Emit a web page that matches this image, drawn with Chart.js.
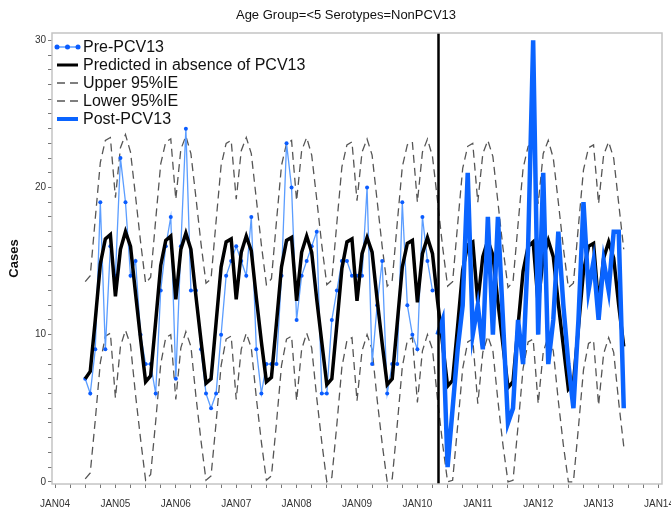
<!DOCTYPE html>
<html lang="en">
<head>
<meta charset="UTF-8">
<title>Age Group=&lt;5 Serotypes=NonPCV13</title>
<script src="https://cdn.jsdelivr.net/npm/chart.js@4.4.1/dist/chart.umd.min.js"></script>
<style>
  html, body { margin: 0; padding: 0; background: #fff; }
  #wrap { width: 671px; height: 512px; position: relative; }
</style>
</head>
<body>
<div id="wrap"><canvas id="casesChart"></canvas></div>
<script>
// months counted from JAN04 = 0
const firstMonth = 6;     // JUL04, first observed month
const introMonth = 76;    // MAY10, PCV13 reference line
const yearLabels = ['JAN04', 'JAN05', 'JAN06', 'JAN07', 'JAN08', 'JAN09',
                    'JAN10', 'JAN11', 'JAN12', 'JAN13', 'JAN14'];
const yTickLabels = [0, 10, 20, 30];

// observed cases, JUL04 .. APR10
const preObserved = [
  7, 6, 9, 19, 9, 16, 14, 22, 19, 14, 15, 10,
  8, 8, 6, 13, 16, 18, 7, 16, 24, 13, 13, 9,
  6, 5, 6, 10, 14, 15, 16, 15, 14, 18, 9, 6,
  8, 8, 8, 14, 23, 20, 11, 14, 15, 16, 17, 6,
  6, 11, 13, 15, 15, 14, 14, 14, 20, 8, 12, 15,
  6, 8, 8, 19, 12, 10, 9, 18, 15, 13
];
// observed cases, MAY10 .. JUN13
const postObserved = [
  10, 11, 1, 5, 9, 12, 21, 10, 12, 9, 18, 10, 18, 11, 4, 5, 11, 8, 16, 30,
  10, 21, 8, 11, 17, 12, 8, 5, 11, 19, 13, 15, 11, 15, 13, 17, 17, 5
];
// model, JUL04 .. JUN13 (one row per Jul-Jun season)
const predicted = [
  7.0, 7.5, 11.0, 14.8, 16.5, 16.8, 12.6, 15.8, 17.0, 16.0, 12.8, 9.7,
  6.8, 7.2, 10.9, 14.7, 16.4, 16.7, 12.4, 15.8, 16.9, 15.8, 12.6, 9.6,
  6.7, 7.0, 10.8, 14.6, 16.3, 16.5, 12.4, 15.6, 16.7, 15.7, 12.5, 9.5,
  6.8, 7.1, 10.8, 14.6, 16.4, 16.6, 12.3, 15.6, 16.7, 15.6, 12.4, 9.5,
  6.6, 7.0, 10.7, 14.5, 16.3, 16.5, 12.3, 15.5, 16.6, 15.6, 12.4, 9.4,
  6.6, 7.0, 10.8, 14.6, 16.2, 16.4, 12.2, 15.5, 16.6, 15.5, 12.3, 9.4,
  6.5, 6.9, 10.6, 14.4, 16.1, 16.3, 12.2, 15.3, 16.4, 15.4, 12.2, 9.3,
  6.4, 6.8, 10.6, 14.3, 16.0, 16.3, 12.1, 15.3, 16.4, 15.3, 12.1, 9.2,
  6.3, 6.7, 10.5, 14.3, 16.0, 16.2, 12.0, 15.2, 16.3, 15.2, 12.0, 9.2
];
const upper95 = [
  13.6, 14.0, 17.9, 21.7, 23.2, 23.4, 19.3, 22.7, 23.6, 22.4, 19.4, 16.3,
  13.5, 13.9, 17.8, 21.6, 23.1, 23.3, 19.2, 22.6, 23.5, 22.3, 19.3, 16.2,
  13.5, 13.8, 17.7, 21.5, 23.0, 23.2, 19.2, 22.5, 23.4, 22.3, 19.2, 16.1,
  13.4, 13.8, 17.7, 21.5, 23.0, 23.2, 19.1, 22.5, 23.4, 22.2, 19.2, 16.1,
  13.4, 13.7, 17.6, 21.4, 22.9, 23.1, 19.1, 22.4, 23.3, 22.2, 19.1, 16.0,
  13.3, 13.7, 17.6, 21.4, 22.9, 23.1, 19.0, 22.4, 23.3, 22.1, 19.1, 16.0,
  13.3, 13.6, 17.5, 21.3, 22.8, 23.0, 19.0, 22.3, 23.2, 22.1, 19.0, 15.9,
  13.2, 13.6, 17.5, 21.3, 22.8, 23.0, 18.9, 22.3, 23.2, 22.0, 19.0, 15.9,
  13.2, 13.5, 17.4, 21.2, 22.7, 22.9, 18.9, 22.2, 23.1, 22.0, 18.9, 15.8
];
const lower95 = [
  0.2, 0.6, 4.2, 8.1, 9.9, 10.1, 5.7, 9.2, 10.3, 9.3, 5.9, 2.9,
  0.1, 0.5, 4.1, 8.0, 9.8, 10.0, 5.6, 9.1, 10.2, 9.2, 5.8, 2.8,
  0.1, 0.4, 4.0, 7.9, 9.7, 9.9, 5.6, 9.0, 10.1, 9.1, 5.7, 2.7,
  0.1, 0.4, 4.0, 7.9, 9.7, 9.9, 5.5, 9.0, 10.1, 9.1, 5.7, 2.7,
  0.0, 0.3, 3.9, 7.8, 9.6, 9.8, 5.5, 8.9, 10.0, 9.0, 5.6, 2.6,
  0.0, 0.2, 3.9, 7.8, 9.6, 9.8, 5.4, 8.9, 10.0, 9.0, 5.6, 2.6,
  0.0, 0.1, 3.8, 7.7, 9.5, 9.7, 5.3, 8.8, 9.9, 8.9, 5.5, 2.5,
  0.0, 0.1, 3.8, 7.7, 9.5, 9.7, 5.3, 8.8, 9.9, 8.9, 5.5, 2.5,
  0.0, 0.0, 3.7, 7.6, 9.4, 9.6, 5.2, 8.7, 9.8, 8.8, 5.4, 2.4
];

const toPoints = (arr, start) => arr.map((v, i) => ({ x: start + i, y: v }));

const blueDot = '#0a5cff';
const blueThin = '#5b9dff';
const blueThick = '#0a64ff';
const dashGray = '#555555';
const fontFamily = '"Liberation Sans", Arial, sans-serif';

const legendItems = [
  { label: 'Pre-PCV13', kind: 'dots' },
  { label: 'Predicted in absence of PCV13', kind: 'black' },
  { label: 'Upper 95%IE', kind: 'dash' },
  { label: 'Lower 95%IE', kind: 'dash' },
  { label: 'Post-PCV13', kind: 'thick' }
];

// frame, PCV13 reference line, title and legend
const decorations = {
  id: 'decorations',
  afterDatasetsDraw(chart) {
    const { ctx, chartArea: a, scales } = chart;
    ctx.save();
    const xi = Math.round(scales.x.getPixelForValue(introMonth)) + 0.5;
    ctx.strokeStyle = '#000';
    ctx.lineWidth = 2.5;
    ctx.beginPath();
    ctx.moveTo(xi, a.top);
    ctx.lineTo(xi, a.bottom);
    ctx.stroke();
    ctx.restore();
  },
  afterDraw(chart) {
    const { ctx, chartArea: a } = chart;
    ctx.save();
    ctx.strokeStyle = '#c4c4c4';
    ctx.lineWidth = 1.5;
    ctx.strokeRect(a.left, a.top, a.right - a.left, a.bottom - a.top);

    ctx.fillStyle = '#111';
    ctx.font = '13px ' + fontFamily;
    ctx.textAlign = 'center';
    ctx.textBaseline = 'middle';
    ctx.fillText('Age Group=<5 Serotypes=NonPCV13', 346, 15);

    ctx.font = '16px ' + fontFamily;
    ctx.textAlign = 'left';
    const x0 = a.left + 5, x1 = a.left + 26;
    legendItems.forEach((it, k) => {
      const y = a.top + 14 + k * 18;
      ctx.save();
      if (it.kind === 'dots') {
        ctx.strokeStyle = blueThin; ctx.lineWidth = 1.5;
        ctx.beginPath(); ctx.moveTo(x0, y); ctx.lineTo(x1, y); ctx.stroke();
        ctx.fillStyle = blueDot;
        [x0, (x0 + x1) / 2, x1].forEach(px => {
          ctx.beginPath(); ctx.arc(px, y, 2.5, 0, Math.PI * 2); ctx.fill();
        });
      } else if (it.kind === 'black') {
        ctx.strokeStyle = '#000'; ctx.lineWidth = 3;
        ctx.beginPath(); ctx.moveTo(x0, y); ctx.lineTo(x1, y); ctx.stroke();
      } else if (it.kind === 'dash') {
        ctx.strokeStyle = dashGray; ctx.lineWidth = 1.3; ctx.setLineDash([8, 5]);
        ctx.beginPath(); ctx.moveTo(x0, y); ctx.lineTo(x1, y); ctx.stroke();
      } else {
        ctx.strokeStyle = blueThick; ctx.lineWidth = 4;
        ctx.beginPath(); ctx.moveTo(x0, y); ctx.lineTo(x1, y); ctx.stroke();
      }
      ctx.restore();
      ctx.fillStyle = '#111';
      ctx.fillText(it.label, x1 + 5, y + 1);
    });
    ctx.restore();
  }
};

new Chart(document.getElementById('casesChart'), {
  type: 'line',
  data: {
    datasets: [
      {
        label: 'Post-PCV13',
        data: toPoints(postObserved, introMonth),
        borderColor: blueThick,
        borderWidth: 4.5,
        pointRadius: 0,
        order: 0
      },
      {
        label: 'Predicted in absence of PCV13',
        data: toPoints(predicted, firstMonth),
        borderColor: '#000',
        borderWidth: 3.5,
        pointRadius: 0,
        order: 1
      },
      {
        label: 'Pre-PCV13',
        data: toPoints(preObserved, firstMonth),
        borderColor: blueThin,
        borderWidth: 1.3,
        pointRadius: 2,
        pointBorderWidth: 0,
        pointBackgroundColor: blueDot,
        order: 2
      },
      {
        label: 'Upper 95%IE',
        data: toPoints(upper95, firstMonth),
        borderColor: dashGray,
        borderWidth: 1.3,
        borderDash: [8, 5],
        pointRadius: 0,
        order: 3
      },
      {
        label: 'Lower 95%IE',
        data: toPoints(lower95, firstMonth),
        borderColor: dashGray,
        borderWidth: 1.3,
        borderDash: [8, 5],
        pointRadius: 0,
        order: 3
      }
    ]
  },
  options: {
    responsive: true,
    maintainAspectRatio: false,
    animation: false,
    devicePixelRatio: 1,
    layout: { padding: { top: 33, right: 9, left: 0, bottom: 0 } },
    elements: { line: { tension: 0 } },
    plugins: {
      legend: { display: false },
      title: { display: false },
      tooltip: { enabled: false }
    },
    scales: {
      x: {
        type: 'linear',
        min: -0.6,
        max: 120.6,
        border: { display: false },
        grid: { drawOnChartArea: false, tickLength: 4, color: '#777' },
        ticks: {
          stepSize: 3,
          autoSkip: false,
          maxRotation: 0,
          includeBounds: false,
          padding: 10,
          color: '#333',
          font: { family: fontFamily, size: 10 },
          callback: v => (v % 12 === 0 ? yearLabels[v / 12] : '')
        },
        afterFit: s => { s.height = 28; s.paddingLeft = 0; s.paddingRight = 0; }
      },
      y: {
        min: -0.15,
        max: 30.5,
        border: { display: false },
        grid: { drawOnChartArea: false, tickLength: 4, color: '#777' },
        ticks: {
          stepSize: 1,
          autoSkip: false,
          includeBounds: false,
          padding: 2,
          color: '#333',
          font: { family: fontFamily, size: 10 },
          callback: v => (yTickLabels.includes(v) ? v : '')
        },
        title: {
          display: true,
          text: 'Cases',
          color: '#111',
          padding: { top: 7, bottom: 0 },
          font: { family: fontFamily, size: 13, weight: 'bold' }
        },
        afterFit: s => { s.width = 52; s.paddingTop = 0; s.paddingBottom = 0; }
      }
    }
  },
  plugins: [decorations]
});
</script>
</body>
</html>
